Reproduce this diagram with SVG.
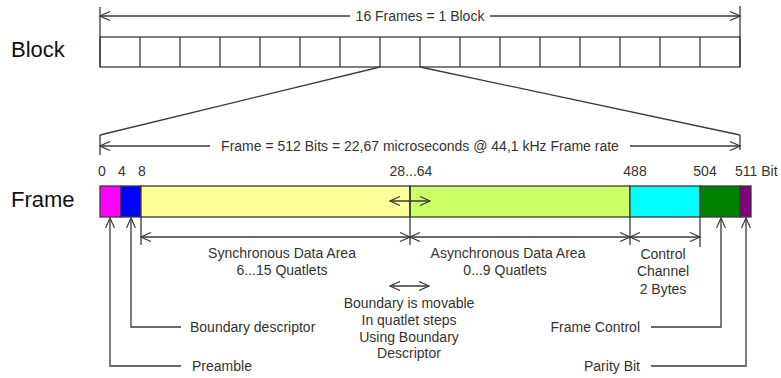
<svg xmlns="http://www.w3.org/2000/svg" width="781" height="378" viewBox="0 0 781 378">
<style>
.ln{stroke:#3a3a3a;stroke-width:1.3;fill:none}
.box{stroke:#3a3a3a;stroke-width:1.3;fill:#fff}
.seg{stroke:#3a3a3a;stroke-width:1.3}
.t{font-family:"Liberation Sans",Arial,sans-serif;font-size:14px;fill:#333}
.big{font-family:"Liberation Sans",Arial,sans-serif;font-size:22px;fill:#111}
.m{text-anchor:middle}
.e{text-anchor:end}
</style>
<defs>
<marker id="ah" viewBox="0 0 12 10" refX="11" refY="5" markerWidth="12" markerHeight="10" markerUnits="userSpaceOnUse" orient="auto-start-reverse">
<path d="M1,0.5 L11,5 L1,9.5" fill="none" stroke="#3a3a3a" stroke-width="1.2"/>
</marker>
</defs>
<rect width="781" height="378" fill="#fff"/>

<g id="block-label"><text class="big" x="11" y="57">Block</text></g>
<g id="frame-label"><text class="big" x="11" y="207">Frame</text></g>

<g id="block">
<rect class="box" x="100" y="37" width="640" height="30"/>
<path class="ln" d="M140,37V67M180,37V67M220,37V67M260,37V67M300,37V67M340,37V67M380,37V67M420,37V67M460,37V67M500,37V67M540,37V67M580,37V67M620,37V67M660,37V67M700,37V67"/>
</g>

<g id="frame">
<rect class="seg" x="100" y="186" width="21" height="31" fill="#ff00ff"/>
<rect class="seg" x="121" y="186" width="20" height="31" fill="#0000ff"/>
<rect class="seg" x="141" y="186" width="269" height="31" fill="#ffff99"/>
<rect class="seg" x="410" y="186" width="220" height="31" fill="#ccff66"/>
<rect class="seg" x="630" y="186" width="70" height="31" fill="#00ffff"/>
<rect class="seg" x="700" y="186" width="40" height="31" fill="#008000"/>
<rect class="seg" x="740" y="186" width="11" height="31" fill="#800080"/>
</g>

<g id="bit-labels">
<text class="t" x="98" y="176">0</text>
<text class="t" x="118" y="176">4</text>
<text class="t" x="138" y="176">8</text>
<text class="t m" x="411" y="176">28...64</text>
<text class="t m" x="635" y="176">488</text>
<text class="t m" x="705" y="176">504</text>
<text class="t" x="735" y="176">511 Bit</text>
</g>

<g id="dim-labels">
<text class="t m" x="420" y="21">16 Frames = 1 Block</text>
<text class="t m" x="420" y="151">Frame = 512 Bits = 22,67 microseconds @ 44,1 kHz Frame rate</text>
<text class="t m" x="282" y="258">Synchronous Data Area</text>
<text class="t m" x="282" y="275">6...15 Quatlets</text>
<text class="t m" x="508" y="258">Asynchronous Data Area</text>
<text class="t m" x="505" y="275">0...9 Quatlets</text>
<text class="t m" x="663" y="259">Control</text>
<text class="t m" x="663" y="276">Channel</text>
<text class="t m" x="663" y="294">2 Bytes</text>
</g>

<g id="boundary-note">
<text class="t m" x="409" y="308">Boundary is movable</text>
<text class="t m" x="409" y="325">In quatlet steps</text>
<text class="t m" x="409" y="342">Using Boundary</text>
<text class="t m" x="409" y="358">Descriptor</text>
</g>

<g id="callout-labels">
<text class="t" x="190" y="332">Boundary descriptor</text>
<text class="t" x="192" y="371">Preamble</text>
<text class="t e" x="640" y="332">Frame Control</text>
<text class="t e" x="640" y="371">Parity Bit</text>
</g>

<g id="connectors">
<path class="ln" d="M100,7V67M740,6V67"/>
<path class="ln" d="M350,16H100" marker-end="url(#ah)"/>
<path class="ln" d="M490,16H740" marker-end="url(#ah)"/>
<path class="ln" d="M380,67L100,135M420,67L740,135"/>
<path class="ln" d="M100,135V155M740,135V150"/>
<path class="ln" d="M210,146H100" marker-end="url(#ah)"/>
<path class="ln" d="M630,146H740" marker-end="url(#ah)"/>
<path class="ln" d="M410,186V217"/>
<path class="ln" d="M390,201H430" marker-start="url(#ah)" marker-end="url(#ah)"/>
<path class="ln" d="M141,217V245M410,217V245M630,217V245M700,217V247"/>
<path class="ln" d="M141,237H410" marker-start="url(#ah)" marker-end="url(#ah)"/>
<path class="ln" d="M410,237H630" marker-start="url(#ah)" marker-end="url(#ah)"/>
<path class="ln" d="M630,237H700" marker-start="url(#ah)" marker-end="url(#ah)"/>
<path class="ln" d="M390,286H429" marker-start="url(#ah)" marker-end="url(#ah)"/>
<path class="ln" d="M181,327H131V218" marker-end="url(#ah)"/>
<path class="ln" d="M181,366H110V218" marker-end="url(#ah)"/>
<path class="ln" d="M651,327H721V218" marker-end="url(#ah)"/>
<path class="ln" d="M651,366H746V218" marker-end="url(#ah)"/>
</g>
</svg>
